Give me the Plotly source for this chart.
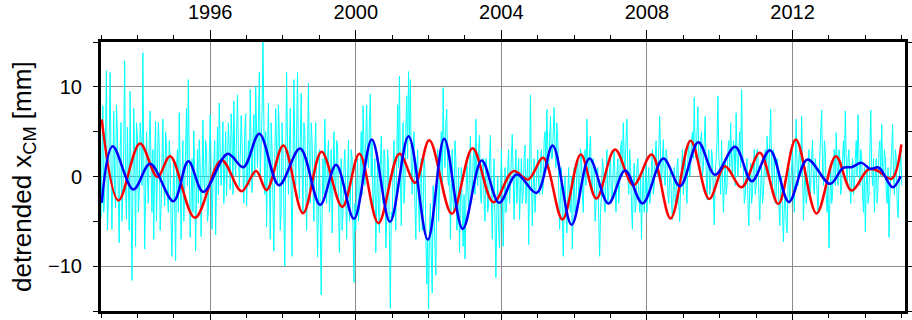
import numpy as np
import plotly.graph_objects as go

# ---------------- data ----------------
cyan_start = 1993.0
cyan_step = 0.025
cyan_1993 = [-4.6, 1.0, 7.9, -4.0, -2.1, 5.0, 11.8, -6.0, -3.0, 4.0, 11.6, 2.0, -5.9, 0.5, 7.3, -1.0, -3.5, 8.0, 5.0, -2.0,
             -7.4, 3.0, 6.0, -5.0, -2.0, 4.0, 12.9, -1.0, -4.8, 5.5, -1.0, -6.0, 9.5, 1.0, -11.6, -2.0, 7.6, 2.0, -7.8, 6.0]
cyan_1994 = [4.5, -4.0, -2.0, 6.0, 4.1, -1.0, 13.8, 2.0, -8.1, -2.0, 5.0, 0.0, -3.0, 4.0, 7.3, 1.0, -4.0, 3.0, -7.0, 2.0,
             6.2, -5.0, -1.0, 6.0, 3.5, -6.0, -3.7, 2.0, 6.4, -1.0, -3.3, 5.0, 3.7, -2.0, -4.0, 4.0, 2.0, -5.0, -8.9, -3.0]
cyan_1995 = [2.0, -3.0, -9.4, 1.0, 3.0, -4.0, 7.1, 1.0, -7.0, -1.0, 4.0, -5.0, -2.0, 3.0, 7.6, -1.0, 10.8, 2.0, -6.8, -3.0,
             2.0, -4.0, 5.1, 0.0, -8.3, -2.0, 3.0, -3.0, 4.1, 1.0, -6.7, -1.0, 6.3, 0.0, -2.0, 4.0, 3.0, -5.0, -4.0, 2.0]
cyan_1996 = [6.9, 1.0, -5.9, -1.0, 2.0, 4.0, -6.5, 0.0, 5.5, -2.0, 8.2, 3.0, -1.0, 2.0, 6.1, -3.0, 1.0, 5.0, -2.2, 1.0,
             6.0, 3.0, -1.5, 7.0, 4.5, -2.0, 8.4, 2.0, 0.0, 5.0, 9.1, 3.0, -1.1, 2.0, 6.8, 4.0, -0.5, -3.0, 5.2, 7.0]
cyan_1997 = [-3.3, 2.0, 4.0, -1.0, 9.7, 3.0, -1.8, 4.0, 6.9, 0.0, 10.1, 5.0, 1.0, 6.0, 11.6, 0.0, 3.0, 7.0, 15.0, 4.0,
             -2.0, 5.0, -5.6, 2.0, 8.2, 0.0, -7.0, 6.0, 3.0, -3.0, -8.3, 2.0, 7.6, 3.0, -1.0, 8.0, 5.0, -6.0, -4.0, 6.0]
cyan_1998 = [3.0, -4.0, -10.0, 2.0, 11.6, 4.0, -2.0, 3.0, 7.6, -1.0, -8.9, 1.0, 10.8, 3.0, -1.0, 5.0, 11.6, 2.0, -2.5, 4.0,
             9.3, 1.0, -4.0, 6.0, 5.0, -2.0, -6.0, 3.0, 10.4, 1.0, -3.0, 6.0, 4.0, -1.0, -5.0, 3.0, 6.0, -2.0, -9.0, -3.0]
cyan_1999 = [3.0, -5.0, -13.2, -4.0, 2.0, -2.0, 6.4, 0.0, -3.0, 2.0, 4.0, -4.0, -2.0, 3.0, -6.3, -1.0, 5.0, 0.0, -2.0, 4.0,
             3.5, -3.0, -8.5, -2.0, 2.0, -6.0, -4.0, 1.0, 3.0, -2.0, -7.0, 0.0, 4.1, -5.0, -3.0, 3.0, 2.0, -6.0, -11.8, -3.0]
cyan_2000 = [-6.0, -1.0, 2.0, -5.0, -3.0, 1.0, 5.0, -2.0, 7.9, 3.0, -1.0, 4.0, 8.0, 2.0, 1.0, 6.0, 9.2, 0.0, 4.0, -4.0,
             -2.0, 2.0, -8.5, -3.0, 2.0, -4.0, -6.3, 1.0, 4.5, -1.0, -3.0, 3.0, 2.0, -8.0, -5.0, 3.0, 1.0, -7.0, -14.7, -4.0]
cyan_2001 = [-5.0, 1.0, 4.0, -2.0, -6.0, 2.0, 8.0, 1.0, 11.2, 0.0, -5.5, 2.0, 6.0, -3.0, -1.0, 5.0, 9.0, 2.0, 11.7, 4.0,
             10.8, 1.0, -2.0, 3.0, 5.0, -3.0, -7.0, 0.0, 3.0, -3.0, -6.2, 1.0, 2.0, -6.0, -4.0, 2.0, 1.0, -6.0, -12.0, -7.0]
cyan_2002 = [-14.8, -6.0, -3.0, -9.0, -13.0, -1.0, -4.0, -8.0, -11.0, -2.0, 3.0, -5.0, -2.0, 2.0, 5.0, -1.0, 9.9, 3.0, 1.0, 6.0,
             7.5, 0.0, -1.0, 3.0, -7.0, -2.0, 3.0, -3.0, -4.0, 4.0, 2.0, -6.0, -5.0, 1.0, -8.5, -3.0, 1.0, -4.0, -7.8, -2.0]
cyan_2003 = [-9.2, -3.0, 2.0, -1.0, -4.0, 1.0, 4.5, -3.0, -2.0, 2.0, 3.0, -2.0, 6.4, 1.0, -1.0, 3.0, 4.6, -2.0, -3.0, 1.0,
             2.0, -3.0, -5.0, 2.0, 1.0, -4.0, -3.0, 2.0, 4.6, -2.0, -7.0, -1.0, 2.0, -5.0, -11.3, -4.0, 0.0, -6.0, -8.0, -2.0]
cyan_2004 = [3.0, -2.0, -7.8, -3.0, 1.0, -4.0, -3.0, 1.0, 3.0, -3.0, -1.0, 2.0, 4.7, -1.0, -4.8, 0.0, 3.0, -3.0, -1.0, 2.0,
             -4.8, -1.0, 2.0, -3.0, -2.0, 2.0, 3.5, -3.0, -1.0, 2.0, -7.6, 1.0, 9.1, 0.0, -5.5, -1.0, 2.0, -4.0, -2.0, 1.0]
cyan_2005 = [3.0, -1.0, -2.0, 2.0, 3.0, -2.0, -1.0, 4.0, 5.0, 1.0, 7.5, 3.0, 0.5, 4.0, 6.7, 2.0, 2.0, 5.0, 7.7, 3.0,
             1.0, 6.0, 4.0, -1.0, -5.9, -2.0, 1.0, -4.0, -8.9, -3.0, 0.0, -4.0, -6.3, -2.0, 1.0, -3.0, -4.0, 0.0, -8.1, -3.0]
cyan_2006 = [1.0, -4.0, -3.0, 1.0, 2.0, -3.0, -1.0, 3.0, 2.3, -2.0, -4.0, 1.0, 3.0, -1.0, 6.4, 2.0, 0.0, 3.0, 4.5, -1.0,
             -2.0, 2.0, 1.0, -5.0, -3.3, 0.0, 1.0, -5.0, -8.9, -4.0, -2.0, 2.0, 1.0, -3.0, -4.0, 0.0, 3.0, -3.0, -2.0, 1.0]
cyan_2007 = [2.0, -3.0, -2.0, 1.0, 3.0, -1.0, -4.0, 0.0, 2.0, -3.0, -1.0, 3.0, 4.0, 0.0, 6.0, 2.0, 1.0, 4.0, 6.4, 0.0,
             -2.0, 3.0, 1.0, -3.0, -5.9, -1.0, 1.5, -4.0, -3.0, 1.0, 2.0, -2.0, -4.0, 0.0, -7.0, -2.0, 1.0, -4.0, -2.0, 2.0]
cyan_2008 = [-4.0, -1.0, 1.0, -3.0, -2.0, 1.0, 3.0, -2.0, -1.0, 2.0, 4.0, 1.0, 0.0, 3.0, 6.7, 2.0, -1.0, 2.0, 4.1, 0.0,
             -1.0, 3.0, 2.0, -2.0, -3.0, 0.0, 1.0, -3.0, -4.8, -1.0, 1.0, -3.0, -2.0, 1.0, 2.0, -3.0, -5.0, -1.0, 1.0, 3.0]
cyan_2009 = [-2.0, 1.0, 3.0, -1.0, -3.0, 2.0, 4.0, 0.0, 1.0, 4.0, 5.0, 2.0, 8.8, 3.0, 2.0, 5.0, 7.8, 2.0, 0.5, 4.0,
             5.0, 0.0, 1.0, 4.0, 6.7, 1.0, -2.6, 1.0, 3.0, -2.0, -1.0, 3.0, 2.0, -2.0, -5.4, 0.0, 2.0, 4.0, 9.0, 2.0]
cyan_2010 = [1.0, -2.0, 4.0, 0.0, -4.0, -1.0, 2.0, -2.0, -1.0, 3.0, 4.0, 1.0, 6.0, 2.0, 0.0, 4.0, 3.0, -1.0, 7.1, 2.0,
             0.0, 3.0, 5.0, 1.0, 9.7, 3.0, 1.0, -3.0, -2.2, 1.0, 2.0, -3.0, -5.5, -1.0, 1.5, -3.0, -2.0, 1.0, 3.0, -2.0]
cyan_2011 = [-1.0, 3.0, 2.0, -2.0, -4.9, -1.0, 1.0, -3.0, -2.0, 1.0, 3.0, 0.0, 4.5, 2.0, 0.0, 4.0, 7.5, 1.0, -1.0, 3.0,
             2.0, -3.0, -2.2, 2.0, 1.0, -3.0, -5.5, -1.0, 0.0, -4.0, -7.3, -3.0, -2.0, -5.0, -6.3, -1.0, 1.0, -3.0, -1.0, 2.0]
cyan_2012 = [3.0, -1.0, -4.0, 2.0, 6.4, 1.0, -1.0, 2.0, 3.0, 0.0, 6.7, 1.0, -4.9, -1.0, 1.0, -3.0, -2.0, 1.0, 3.0, -2.0,
             -1.0, 2.0, 4.1, -1.0, -2.0, 2.0, 1.0, -2.0, -4.0, 0.0, 2.0, 4.0, 7.4, 1.0, -1.0, 4.0, 3.0, -2.0, -4.0, -1.0]
cyan_2013 = [-8.0, -3.0, 1.0, -3.0, -2.0, 2.0, 3.0, -1.0, 4.9, 1.0, -1.0, 3.0, 2.0, -2.0, -1.0, 2.0, 4.0, 1.0, 7.3, 2.0,
             -1.0, 2.0, 3.0, -1.0, -3.0, 0.0, 2.0, -2.0, -1.0, 2.0, 4.0, 0.0, 6.9, 2.0, -1.0, 3.0, 2.0, -2.0, -4.0, 1.0]
cyan_2014 = [-6.2, -1.0, 1.0, -3.0, -2.0, 3.0, 7.4, 1.0, -1.0, 2.0, -4.0, 0.0, 2.0, -3.0, -1.0, 3.0, 4.0, 0.0, 5.8, 1.0,
             0.0, 3.0, 2.0, -2.0, -3.0, 1.0, -6.8, -2.0, 1.0, 3.0, 5.8, 0.0, -2.0, 3.0, 2.0, -3.0, -4.6, -1.0, 1.0, 3.0]
cyan_2015 = [-1.0]

red_t = [1993.02, 1993.48, 1994.07, 1994.55, 1994.90, 1995.58, 1996.31, 1996.86, 1997.26, 1997.55,
         1998.01, 1998.55, 1999.06, 1999.63, 2000.10, 2000.62, 2001.20, 2001.63, 2002.02, 2002.64,
         2003.21, 2003.78, 2004.33, 2004.74, 2005.15, 2005.68, 2006.18, 2006.61, 2007.12, 2007.63,
         2008.13, 2008.65, 2009.20, 2009.71, 2010.14, 2010.60, 2011.10, 2011.61, 2012.09, 2012.66,
         2013.19, 2013.62, 2014.08, 2014.31, 2014.72, 2014.99]
red_v = [6.36, -2.68, 3.68, -0.05, 2.27, -4.6, 1.82, -1.64, 0.6, -1.52,
         3.46, -4.1, 2.75, -3.38, 2.53, -5.2, 2.53, -0.7, 4.05, -4.16,
         3.16, -2.86, 0.6, -0.33, 2.08, -4.8, 2.45, -2.45, 3.0, -0.97,
         2.45, -4.68, 4.0, -2.5, 1.15, -1.2, 2.64, -3.05, 4.13, -4.13,
         2.27, -1.56, 0.78, 0.7, -0.26, 3.57]

blue_t = [1993.02, 1993.32, 1993.89, 1994.35, 1994.99, 1995.40, 1995.81, 1996.48, 1996.91, 1997.35,
          1997.89, 1998.47, 1999.02, 1999.46, 1999.95, 2000.44, 2000.94, 2001.45, 2001.98, 2002.43,
          2002.94, 2003.46, 2003.94, 2004.42, 2004.97, 2005.41, 2005.93, 2006.42, 2006.94, 2007.40,
          2007.88, 2008.45, 2008.91, 2009.41, 2009.87, 2010.42, 2010.88, 2011.38, 2011.90, 2012.41,
          2013.03, 2013.39, 2013.62, 2013.90, 2014.13, 2014.37, 2014.75, 2014.97]
blue_v = [-2.94, 3.38, -1.45, 1.41, -2.75, 1.71, -1.71, 2.53, 1.04, 4.76,
          -0.97, 3.12, -3.16, 1.3, -4.72, 4.13, -5.06, 4.5, -7.03, 4.2,
          -5.84, 1.78, -2.94, 0.22, -1.82, 3.46, -5.39, 2.0, -3.0, 0.67,
          -3.0, 2.0, -1.08, 3.83, 0.19, 3.31, -0.52, 2.94, -2.83, 1.9,
          -0.82, 0.97, 1.04, 1.52, 0.86, 1.0, -1.19, 0.04]

x_major_ticks = [1996, 2000, 2004, 2008, 2012]
y_major_ticks = [-10, 0, 10]

# ---------------- assemble ----------------
cyan_v = (cyan_1993 + cyan_1994 + cyan_1995 + cyan_1996 + cyan_1997 + cyan_1998 + cyan_1999 +
          cyan_2000 + cyan_2001 + cyan_2002 + cyan_2003 + cyan_2004 + cyan_2005 + cyan_2006 +
          cyan_2007 + cyan_2008 + cyan_2009 + cyan_2010 + cyan_2011 + cyan_2012 + cyan_2013 +
          cyan_2014 + cyan_2015)
cyan_t = cyan_start + cyan_step * np.arange(len(cyan_v))

FONT = "Liberation Sans, Arial, Helvetica, sans-serif"

fig = go.Figure()
fig.add_trace(go.Scatter(x=cyan_t, y=cyan_v, mode="lines",
                         line=dict(color="#00FFFF", width=1), hoverinfo="skip"))
fig.add_trace(go.Scatter(x=red_t, y=red_v, mode="lines",
                         line=dict(color="#FF0000", width=2.5, shape="spline", smoothing=1.0)))
fig.add_trace(go.Scatter(x=blue_t, y=blue_v, mode="lines",
                         line=dict(color="#0000FF", width=2.5, shape="spline", smoothing=1.0)))

fig.update_layout(
    template="none",
    width=912, height=320,
    margin=dict(l=101, r=7, t=42, b=9, autoexpand=False),
    paper_bgcolor="white", plot_bgcolor="white",
    showlegend=False,
    font=dict(family=FONT, size=20, color="black"),
)

fig.update_xaxes(
    range=[1993.0, 2015.09], side="top", automargin=False,
    tickmode="array", tickvals=x_major_ticks, ticktext=[str(v) for v in x_major_ticks],
    ticks="outside", ticklen=9, tickwidth=1.2, tickcolor="black", ticklabelstandoff=3,
    minor=dict(dtick=1, tick0=1993, ticks="outside", ticklen=4, tickwidth=1.2, tickcolor="black", showgrid=False),
    showgrid=True, gridcolor="#8c8c8c", gridwidth=1,
    showline=True, linewidth=3, linecolor="black", mirror="ticks",
    zeroline=False, tickfont=dict(size=20, family=FONT),
)
fig.update_yaxes(
    range=[-15, 15], automargin=False,
    tickmode="array", tickvals=y_major_ticks,
    ticks="outside", ticklen=5, tickwidth=1.2, tickcolor="black", ticklabelstandoff=7,
    minor=dict(dtick=5, tick0=-15, ticks="outside", ticklen=5, tickwidth=1.2, tickcolor="black", showgrid=False),
    showgrid=True, gridcolor="#8c8c8c", gridwidth=1,
    showline=True, linewidth=3, linecolor="black", mirror="ticks",
    zeroline=False, tickfont=dict(size=20, family=FONT),
)

fig.add_annotation(
    text="detrended x<sub>CM</sub> [mm]",
    xref="paper", yref="paper", x=(23.5 - 101) / 804, y=0.5,
    xanchor="center", yanchor="middle", textangle=-90, showarrow=False,
    font=dict(size=26, family=FONT, color="black"),
)

fig.write_html("out.html")
